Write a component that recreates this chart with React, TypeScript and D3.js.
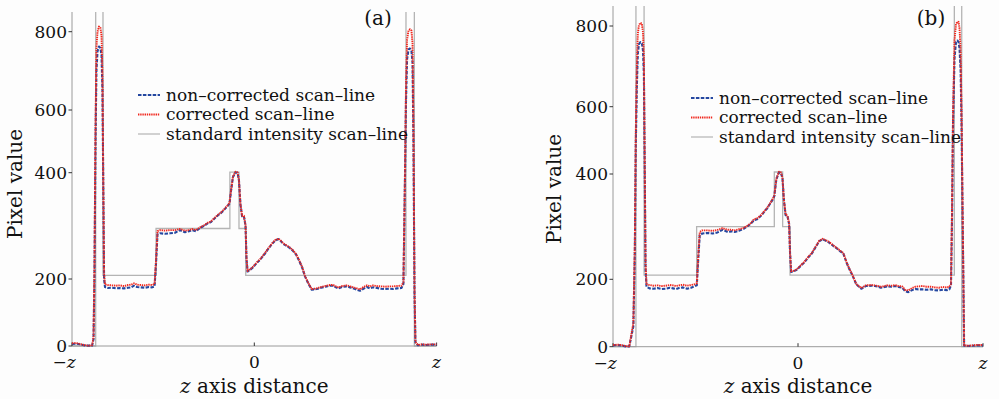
import React from "react";
import * as d3 from "d3";

// shared sampling positions along the z axis (−z … z mapped to −1 … 1)
const zPositions = [
  -1.0, -0.978, -0.956, -0.934, -0.912, -0.89, -0.882, -0.877, -0.871, -0.866,
  -0.86, -0.852, -0.844, -0.838, -0.833, -0.829, -0.824, -0.819, -0.803, -0.781,
  -0.759, -0.737, -0.715, -0.693, -0.676, -0.66, -0.643, -0.622, -0.6, -0.578,
  -0.561, -0.547, -0.539, -0.531, -0.517, -0.49, -0.462, -0.435, -0.408, -0.38,
  -0.358, -0.342, -0.32, -0.298, -0.276, -0.254, -0.238, -0.221, -0.199, -0.183,
  -0.166, -0.15, -0.136, -0.128, -0.117, -0.103, -0.092, -0.084, -0.076, -0.067,
  -0.057, -0.048, -0.043, -0.037, -0.024, -0.007, 0.013, 0.031, 0.059, 0.075,
  0.097, 0.114, 0.132, 0.146, 0.163, 0.179, 0.196, 0.212, 0.229, 0.245,
  0.262, 0.278, 0.295, 0.315, 0.342, 0.366, 0.397, 0.415, 0.433, 0.448,
  0.461, 0.481, 0.507, 0.525, 0.543, 0.563, 0.58, 0.596, 0.617, 0.635,
  0.651, 0.673, 0.695, 0.717, 0.739, 0.761, 0.783, 0.807, 0.818, 0.827,
  0.832, 0.838, 0.846, 0.854, 0.862, 0.868, 0.873, 0.879, 0.884, 0.898,
  0.92, 0.942, 0.964, 1.0,
];

const nonCorrectedA = [
  6, 7, 5, 2, 1, 1, 20, 200, 500, 700,
  750, 762, 758, 740, 650, 400, 200, 176, 173, 174,
  172, 173, 172, 174, 175, 180, 176, 175, 174, 176,
  175, 178, 230, 284, 286, 285, 286, 287, 292, 288,
  290, 292, 290, 296, 300, 305, 307, 313, 320, 324,
  330, 336, 342, 365, 392, 401, 400, 385, 340, 318,
  318, 300, 240, 214, 217, 222, 230, 236, 248, 256,
  266, 272, 275, 271, 265, 262, 258, 253, 246, 235,
  222, 205, 188, 168, 170, 174, 178, 180, 180, 175,
  172, 176, 178, 175, 172, 168, 165, 170, 176, 172,
  175, 173, 171, 170, 171, 170, 172, 173, 185, 400,
  620, 730, 755, 757, 752, 720, 500, 150, 10, 2,
  4, 3, 4, 4,
];

const correctedA = [
  8, 9, 6, 3, 1, 2, 25, 220, 550, 760,
  800, 813, 810, 790, 690, 420, 210, 184, 182, 181,
  180, 181, 179, 182, 183, 187, 183, 182, 181, 183,
  182, 185, 236, 290, 292, 291, 292, 292, 294, 291,
  292, 294, 292, 297, 301, 306, 308, 314, 321, 325,
  331, 337, 343, 366, 393, 403, 401, 386, 341, 319,
  319, 301, 241, 215, 218, 223, 231, 237, 249, 257,
  267, 273, 276, 272, 266, 263, 259, 254, 247, 236,
  223, 206, 189, 170, 172, 176, 180, 182, 182, 178,
  175, 179, 181, 178, 175, 172, 169, 175, 181, 178,
  181, 179, 178, 177, 178, 178, 179, 180, 190, 420,
  660, 780, 803, 806, 803, 770, 540, 170, 12, 3,
  5, 4, 5, 5,
];

const nonCorrectedB = [
  4, 5, 4, 1, 1, 60, 250, 480, 650, 730,
  755, 760, 757, 740, 680, 450, 220, 178, 173, 172,
  174, 171, 172, 175, 173, 171, 174, 176, 172, 175,
  179, 182, 240, 284, 287, 288, 287, 289, 294, 290,
  291, 290, 292, 295, 300, 306, 312, 314, 321, 328,
  335, 344, 352, 358, 390, 405, 403, 392, 350, 322,
  320, 305, 250, 214, 215, 218, 225, 231, 243, 249,
  262, 272, 276, 274, 271, 267, 262, 258, 253, 249,
  232, 219, 207, 185, 172, 180, 181, 180, 178, 175,
  176, 179, 178, 180, 177, 175, 164, 162, 168, 171,
  170, 170, 169, 170, 168, 167, 169, 168, 170, 182,
  300, 550, 720, 760, 764, 760, 745, 690, 550, 3,
  2, 3, 4, 4,
];

const correctedB = [
  5, 6, 5, 2, 1, 70, 270, 520, 700, 780,
  802, 808, 806, 785, 720, 480, 230, 186, 183, 181,
  182, 180, 181, 183, 182, 180, 182, 184, 181, 183,
  185, 188, 246, 290, 293, 293, 292, 294, 297, 294,
  294, 293, 295, 297, 301, 307, 314, 316, 322, 329,
  336, 345, 353, 359, 391, 407, 405, 393, 351, 323,
  321, 306, 251, 215, 216, 219, 226, 232, 244, 250,
  263, 273, 277, 275, 272, 268, 263, 259, 254, 250,
  233, 220, 208, 186, 174, 182, 183, 182, 180, 178,
  179, 182, 181, 183, 180, 179, 168, 167, 174, 178,
  179, 180, 178, 178, 176, 175, 177, 176, 178, 186,
  320, 580, 765, 805, 811, 810, 795, 740, 580, 4,
  3, 4, 5, 5,
];

// standard intensity scan-line (step profile; the spikes run off the top of the frame)
const standardZA = [-1, -0.87, -0.87, -0.83, -0.83, -0.539, -0.539, -0.134, -0.134, -0.084, -0.084, -0.047, -0.047, 0.832, 0.832, 0.878, 0.878, 1];
const standardA = [0, 0, 1000, 1000, 207, 207, 295, 295, 402, 402, 295, 295, 207, 207, 1000, 1000, 0, 0];
const standardZB = [-1, -0.876, -0.876, -0.832, -0.832, -0.548, -0.548, -0.128, -0.128, -0.083, -0.083, -0.043, -0.043, 0.845, 0.845, 0.885, 0.885, 1];
const standardB = [0, 0, 1000, 1000, 208, 208, 300, 300, 406, 406, 300, 300, 208, 208, 1000, 1000, 0, 0];

const yTickValues = [0, 200, 400, 600, 800];
const yBreaks = [0, 200, 400, 600, 800, 850];
const xTickValues = [-1, 0, 1];
const xTickLabels = ["−z", "0", "z"];
const legendLabels = ["non–corrected scan–line", "corrected scan–line", "standard intensity scan–line"];
const panelLabels = ["(a)", "(b)"];

const FONT = "'DejaVu Serif', serif";
const BLUE = "#2447a0";
const RED = "#f0281e";
const GRAY = "#b4b4b4";
const AXIS = "#9a9a9a";

type PanelProps = {
  id: string;
  label: string;
  xRange: [number, number];
  yRange: number[];
  nonCorr: number[];
  corr: number[];
  stdZ: number[];
  std: number[];
  legendX: number;
  legendY: number;
  yLabelX: number;
  yLabelY: number;
  labelX: number;
};

function Panel(p: PanelProps) {
  const x = d3.scaleLinear().domain([-1, 1]).range(p.xRange);
  const y = d3.scaleLinear().domain(yBreaks).range(p.yRange);
  const left = p.xRange[0];
  const right = p.xRange[1];
  const bottom = y(0);
  const top = y(850);
  const line = d3
    .line<[number, number]>()
    .x((d) => x(d[0]))
    .y((d) => y(d[1]));
  const blueD = line(zPositions.map((z, i) => [z, p.nonCorr[i]] as [number, number])) || "";
  const redD = line(zPositions.map((z, i) => [z, p.corr[i]] as [number, number])) || "";
  const grayD = line(p.stdZ.map((z, i) => [z, p.std[i]] as [number, number])) || "";
  const rows = [0, 19.5, 39];
  const styles = [
    { stroke: BLUE, dash: "3.5,1.4", w: 2 },
    { stroke: RED, dash: "1.4,0.8", w: 2 },
    { stroke: GRAY, dash: "none", w: 1.2 },
  ];
  return (
    <g fontFamily={FONT}>
      <defs>
        <clipPath id={p.id}>
          <rect x={left - 2} y={top} width={right - left + 4} height={bottom - top + 4} />
        </clipPath>
      </defs>
      {/* standard line */}
      <path d={grayD} fill="none" stroke={GRAY} strokeWidth={1.3} clipPath={`url(#${p.id})`} />
      {/* axes */}
      <line x1={left} x2={left} y1={top} y2={bottom} stroke={AXIS} strokeWidth={1} />
      <line x1={left} x2={right} y1={bottom} y2={bottom} stroke={AXIS} strokeWidth={1} />
      {yTickValues.map((v) => (
        <g key={v}>
          <line x1={left - 3.5} x2={left} y1={y(v)} y2={y(v)} stroke="#333" strokeWidth={1} />
          <text x={left - 5} y={y(v)} dy="0.36em" textAnchor="end" fontSize={17} fill="#111">
            {v}
          </text>
        </g>
      ))}
      {xTickValues.map((v, i) => (
        <g key={v}>
          <line x1={x(v)} x2={x(v)} y1={bottom} y2={bottom - 3.5} stroke="#333" strokeWidth={1} />
          <text
            x={x(v) + (i === 0 ? -8 : 0)}
            y={bottom + 22}
            textAnchor="middle"
            fontSize={17}
            fill="#111"
          >
            {i === 1 ? (
              xTickLabels[i]
            ) : i === 0 ? (
              <>
                <tspan>−</tspan>
                <tspan fontStyle="italic">z</tspan>
              </>
            ) : (
              <tspan fontStyle="italic">{xTickLabels[i]}</tspan>
            )}
          </text>
        </g>
      ))}
      {/* data lines */}
      <g clipPath={`url(#${p.id})`}>
        <path d={blueD} fill="none" stroke={BLUE} strokeWidth={2.1} strokeDasharray="3.5,1.4" strokeLinejoin="round" />
        <path d={redD} fill="none" stroke={RED} strokeWidth={1.9} strokeDasharray="1.4,0.8" strokeLinejoin="round" />
      </g>
      {/* axis titles */}
      <text x={x(0)} y={393} textAnchor="middle" fontSize={20} fill="#111">
        <tspan fontStyle="italic">z</tspan>
        <tspan> axis distance</tspan>
      </text>
      <text
        transform={`translate(${p.yLabelX},${p.yLabelY}) rotate(-90)`}
        textAnchor="middle"
        dy="0.35em"
        fontSize={20}
        fill="#111"
      >
        Pixel value
      </text>
      <text x={p.labelX} y={25} textAnchor="middle" fontSize={20} fill="#111">
        {p.label}
      </text>
      {/* legend */}
      {legendLabels.map((t, i) => (
        <g key={t}>
          <line
            x1={p.legendX}
            x2={p.legendX + 22}
            y1={p.legendY + rows[i]}
            y2={p.legendY + rows[i]}
            stroke={styles[i].stroke}
            strokeWidth={styles[i].w}
            strokeDasharray={styles[i].dash}
          />
          <text x={p.legendX + 28} y={p.legendY + rows[i]} dy="0.33em" fontSize={17} fill="#111">
            {t}
          </text>
        </g>
      ))}
    </g>
  );
}

export default function App() {
  return (
    <svg
      width={999}
      height={399}
      style={{ position: "absolute", left: 0, top: 0, background: "#fdfdfd" }}
    >
      <Panel
        id="clipA"
        label={panelLabels[0]}
        xRange={[72, 436.6]}
        yRange={[346, 279, 172.7, 110, 31.7, 12]}
        nonCorr={nonCorrectedA}
        corr={correctedA}
        stdZ={standardZA}
        std={standardA}
        legendX={138}
        legendY={95}
        yLabelX={15}
        yLabelY={184}
        labelX={378}
      />
      <Panel
        id="clipB"
        label={panelLabels[1]}
        xRange={[613, 983]}
        yRange={[346.7, 279.3, 174, 106.7, 26, 6]}
        nonCorr={nonCorrectedB}
        corr={correctedB}
        stdZ={standardZB}
        std={standardB}
        legendX={691}
        legendY={98}
        yLabelX={554}
        yLabelY={189}
        labelX={931}
      />
    </svg>
  );
}
